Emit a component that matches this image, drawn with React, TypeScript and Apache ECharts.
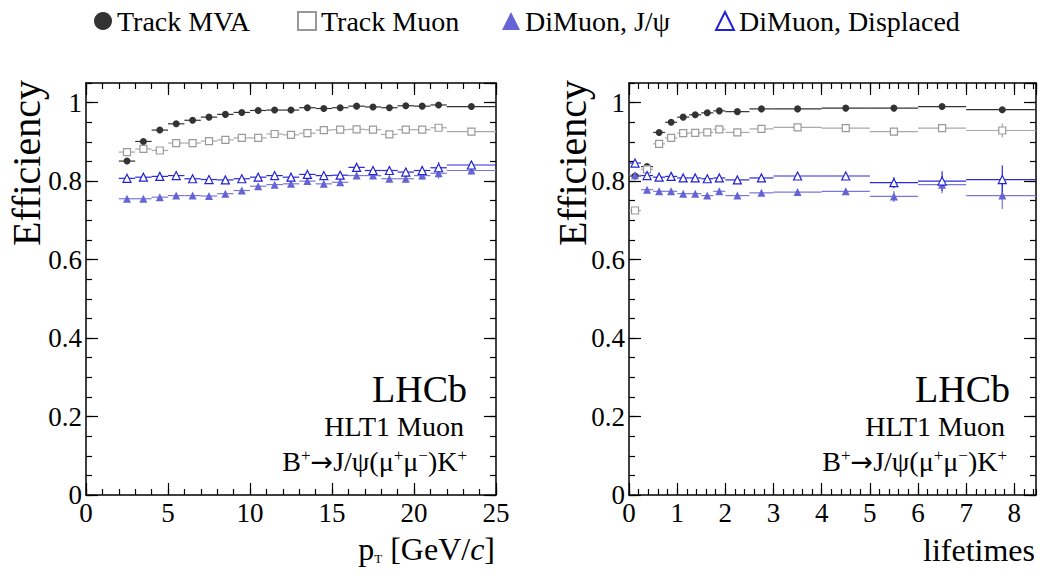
import React, { useEffect, useRef } from "react";
import * as echarts from "echarts";

// ---------- data ----------
const legendNames = ["Track MVA", "Track Muon", "DiMuon, J/\u03C8", "DiMuon, Displaced"];

// left panel: pT [GeV/c]
const ptEdges = [2, 3, 4, 5, 6, 7, 8, 9, 10, 11, 12, 13, 14, 15, 16, 17, 18, 19, 20, 21, 22, 25];
const mvaPt = [0.851, 0.901, 0.930, 0.946, 0.955, 0.963, 0.970, 0.975, 0.980, 0.981, 0.981, 0.987, 0.985, 0.987, 0.991, 0.989, 0.987, 0.992, 0.991, 0.994, 0.990];
const mvaPtErr = [0.003, 0.002, 0.002, 0.002, 0.002, 0.002, 0.002, 0.002, 0.002, 0.002, 0.002, 0.002, 0.002, 0.002, 0.002, 0.002, 0.002, 0.002, 0.002, 0.002, 0.002];
const muonPt = [0.874, 0.882, 0.878, 0.897, 0.897, 0.902, 0.905, 0.910, 0.910, 0.920, 0.918, 0.922, 0.930, 0.931, 0.932, 0.931, 0.919, 0.931, 0.931, 0.936, 0.926];
const muonPtErr = [0.003, 0.003, 0.003, 0.003, 0.003, 0.003, 0.003, 0.003, 0.003, 0.003, 0.003, 0.003, 0.003, 0.003, 0.004, 0.004, 0.004, 0.004, 0.004, 0.005, 0.004];
const jpsiPt = [0.755, 0.755, 0.759, 0.763, 0.763, 0.762, 0.768, 0.776, 0.787, 0.791, 0.793, 0.800, 0.793, 0.797, 0.814, 0.814, 0.806, 0.806, 0.814, 0.820, 0.827];
const jpsiPtErr = [0.003, 0.003, 0.003, 0.003, 0.003, 0.003, 0.003, 0.003, 0.004, 0.004, 0.005, 0.005, 0.006, 0.006, 0.007, 0.008, 0.009, 0.010, 0.011, 0.014, 0.010];
const dispPt = [0.807, 0.810, 0.812, 0.814, 0.806, 0.804, 0.803, 0.806, 0.810, 0.814, 0.810, 0.817, 0.814, 0.815, 0.835, 0.827, 0.827, 0.823, 0.827, 0.834, 0.841];
const dispPtErr = [0.003, 0.003, 0.003, 0.003, 0.003, 0.003, 0.003, 0.003, 0.004, 0.004, 0.005, 0.005, 0.006, 0.006, 0.008, 0.008, 0.009, 0.010, 0.011, 0.014, 0.010];

// right panel: decay time in lifetimes
const tauEdges = [0, 0.25, 0.5, 0.75, 1, 1.25, 1.5, 1.75, 2, 2.5, 3, 4, 5, 6, 7, 8.5];
const mvaTau = [0.813, 0.837, 0.924, 0.950, 0.963, 0.969, 0.974, 0.979, 0.977, 0.984, 0.984, 0.986, 0.986, 0.990, 0.982];
const mvaTauErr = [0.004, 0.003, 0.002, 0.002, 0.002, 0.002, 0.002, 0.002, 0.002, 0.002, 0.002, 0.002, 0.003, 0.003, 0.005];
const muonTau = [0.725, 0.830, 0.895, 0.910, 0.922, 0.923, 0.924, 0.932, 0.924, 0.933, 0.937, 0.935, 0.926, 0.935, 0.929];
const muonTauErr = [0.006, 0.004, 0.003, 0.003, 0.003, 0.003, 0.003, 0.003, 0.003, 0.003, 0.003, 0.004, 0.006, 0.010, 0.018];
const jpsiTau = [0.815, 0.778, 0.774, 0.774, 0.768, 0.768, 0.763, 0.774, 0.763, 0.770, 0.772, 0.774, 0.761, 0.791, 0.763];
const jpsiTauErr = [0.004, 0.003, 0.003, 0.003, 0.003, 0.003, 0.003, 0.003, 0.003, 0.003, 0.004, 0.006, 0.014, 0.022, 0.034];
const dispTau = [0.846, 0.814, 0.810, 0.812, 0.808, 0.808, 0.806, 0.808, 0.803, 0.808, 0.813, 0.813, 0.796, 0.800, 0.804];
const dispTauErr = [0.004, 0.003, 0.003, 0.003, 0.003, 0.003, 0.003, 0.003, 0.003, 0.003, 0.004, 0.006, 0.014, 0.025, 0.036];

// axis ranges
const yMax = 1.05;
const ptMax = 25;
const tauMax = 8.45;

// ---------- styles / layout ----------
const FONT = "Liberation Serif";
const legendLefts = [89, 292, 497, 710];
const styles = [
  { symbol: "circle", size: 7, fill: "#333333", stroke: "#333333", line: "#333333", bw: 0 },
  { symbol: "rect", size: 7, fill: "#ffffff", stroke: "#999999", line: "#a8a8a8", bw: 1.2 },
  { symbol: "triangle", size: 8, fill: "#6464d4", stroke: "#6464d4", line: "#7878dc", bw: 0 },
  { symbol: "triangle", size: 8, fill: "#ffffff", stroke: "#2222d4", line: "#2a2ad6", bw: 1.2 },
];

function binRows(edges: number[], vals: number[], errs: number[]) {
  return vals.map((v, i) => [edges[i], edges[i + 1], v, errs[i]]);
}
function centers(edges: number[], vals: number[]) {
  return vals.map((v, i) => [(edges[i] + edges[i + 1]) / 2, v]);
}

function makeSeries(axisIdx: number, edges: number[], sets: [number[], number[]][]) {
  const out: any[] = [];
  sets.forEach(([vals, errs], k) => {
    const st = styles[k];
    out.push({
      type: "custom",
      name: "err" + k + "_" + axisIdx,
      xAxisIndex: axisIdx,
      yAxisIndex: axisIdx,
      clip: true,
      silent: true,
      z: 2,
      data: binRows(edges, vals, errs),
      renderItem: (params: any, api: any) => {
        const x0 = api.value(0), x1 = api.value(1), y = api.value(2), e = api.value(3);
        const a = api.coord([x0, y]);
        const b = api.coord([x1, y]);
        const cx = (x0 + x1) / 2;
        const t = api.coord([cx, y + e]);
        const u = api.coord([cx, y - e]);
        return {
          type: "group",
          children: [
            { type: "line", shape: { x1: a[0], y1: a[1], x2: b[0], y2: b[1] }, style: { stroke: st.line, lineWidth: 1.2 } },
            { type: "line", shape: { x1: t[0], y1: t[1], x2: u[0], y2: u[1] }, style: { stroke: st.line, lineWidth: 1.2 } },
          ],
        };
      },
    });
    out.push({
      type: "scatter",
      name: legendNames[k],
      xAxisIndex: axisIdx,
      yAxisIndex: axisIdx,
      symbol: st.symbol,
      symbolSize: st.size,
      z: 3,
      itemStyle: { color: st.fill, borderColor: st.stroke, borderWidth: st.bw, opacity: 1 },
      data: centers(edges, vals),
    });
  });
  return out;
}

function axisSet(kind: "x" | "y", grid: number, max: number, major: number, minor: number, showMaxLabel: boolean) {
  const posMain = kind === "x" ? "bottom" : "left";
  const posMirror = kind === "x" ? "top" : "right";
  const common = {
    type: "value",
    gridIndex: grid,
    min: 0,
    max,
    splitLine: { show: false },
  };
  const line = { show: true, onZero: false, lineStyle: { color: "#000", width: 1.5 } };
  const mk = (pos: string, interval: number, len: number, labels: boolean) => ({
    ...common,
    position: pos,
    interval,
    axisLine: len > 8 ? line : { show: false, onZero: false },
    axisTick: { show: true, inside: true, length: len, lineStyle: { color: "#000", width: 1.2 } },
    axisLabel: labels
      ? {
          show: true,
          fontFamily: FONT,
          fontSize: 27,
          color: "#000",
          margin: 4,
          showMaxLabel,
          showMinLabel: true,
        }
      : { show: false },
  });
  return [mk(posMain, major, 12, true), mk(posMain, minor, 6, false), mk(posMirror, major, 12, false), mk(posMirror, minor, 6, false)];
}

function textEl(text: string, x: number, y: number, size: number, align: string, extra: any = {}) {
  return {
    type: "text",
    x,
    y,
    silent: true,
    ...extra,
    style: {
      text,
      fill: "#000",
      fontFamily: FONT,
      fontSize: size,
      align,
      verticalAlign: "middle",
      ...(extra.style || {}),
    },
  };
}

const formulaRich = {
  s: { fontSize: 17, fontFamily: FONT, fill: "#000", verticalAlign: "top", lineHeight: 29 },
  a: { fontSize: 27, fontFamily: "DejaVu Sans", fill: "#000" },
};

export default function App() {
  const ref = useRef<HTMLDivElement>(null);
  useEffect(() => {
    if (!ref.current) return;
    const chart = echarts.init(ref.current, undefined, { renderer: "svg" });
    const formula = "B{s|+}{a|\u2192}J/\u03C8(\u03BC{s|+}\u03BC{s|\u2212})K{s|+}";
    const option: any = {
      animation: false,
      backgroundColor: "#ffffff",
      grid: [
        { left: 86, top: 83, width: 410, height: 412 },
        { left: 629, top: 83, width: 407, height: 412 },
      ],
      xAxis: [...axisSet("x", 0, ptMax, 5, 1, true), ...axisSet("x", 1, tauMax, 1, 0.2, false)],
      yAxis: [...axisSet("y", 0, yMax, 0.2, 0.05, false), ...axisSet("y", 1, yMax, 0.2, 0.05, false)],
      legend: legendNames.map((n, i) => ({
        show: true,
        top: 2,
        left: legendLefts[i],
        itemWidth: 18,
        itemHeight: 18,
        data: [n],
        selectedMode: false,
        textStyle: { fontFamily: FONT, fontSize: 28, color: "#000" },
      })),
      series: [
        ...makeSeries(0, ptEdges, [
          [mvaPt, mvaPtErr],
          [muonPt, muonPtErr],
          [jpsiPt, jpsiPtErr],
          [dispPt, dispPtErr],
        ]),
        ...makeSeries(4, tauEdges, [
          [mvaTau, mvaTauErr],
          [muonTau, muonTauErr],
          [jpsiTau, jpsiTauErr],
          [dispTau, dispTauErr],
        ]),
      ],
      graphic: [
        textEl("Efficiency", 26, 163, 40, "center", { rotation: Math.PI / 2 }),
        textEl("Efficiency", 572, 163, 40, "center", { rotation: Math.PI / 2 }),
        textEl("LHCb", 467, 389, 38, "right"),
        textEl("HLT1 Muon", 464, 426, 28, "right"),
        textEl(formula, 467, 461, 28, "right", { style: { rich: formulaRich } }),
        textEl("LHCb", 1010, 389, 38, "right"),
        textEl("HLT1 Muon", 1005, 426, 28, "right"),
        textEl(formula, 1007, 461, 28, "right", { style: { rich: formulaRich } }),
        textEl("p{sub|T} [GeV/{it|c}]", 495, 549, 32, "right", {
          style: {
            rich: {
              sub: { fontSize: 13, fontFamily: FONT, fill: "#000", verticalAlign: "bottom", lineHeight: 26 },
              it: { fontSize: 32, fontFamily: FONT, fontStyle: "italic", fill: "#000" },
            },
          },
        }),
        textEl("lifetimes", 1035, 550, 32, "right"),
      ],
    };
    chart.setOption(option);
    return () => chart.dispose();
  }, []);
  return <div ref={ref} style={{ position: "absolute", left: 0, top: 0, width: 1046, height: 574 }} />;
}
